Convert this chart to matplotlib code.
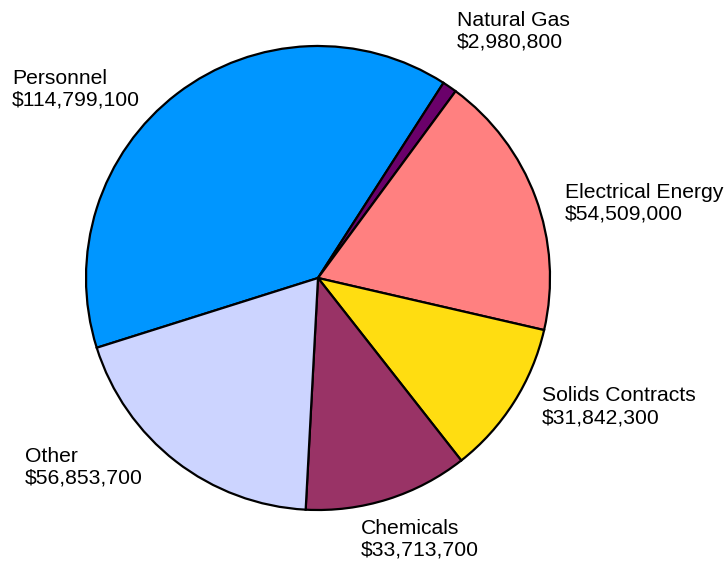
import matplotlib.pyplot as plt

# ---------------- data ----------------
categories = ["Personnel", "Natural Gas", "Electrical Energy",
              "Solids Contracts", "Chemicals", "Other"]
costs = [114799100, 2980800, 54509000, 31842300, 33713700, 56853700]
colors = ["#0096FF", "#6A006A", "#FF8080", "#FFDD11", "#993366", "#CCD4FF"]

# label anchors in pixels (left edge, baseline of the second line)
label_px = [(12, 106), (457, 48), (565, 220), (542, 423), (361, 556), (25, 484)]

W, H = 727, 566
plt.rcParams["font.family"] = ["Liberation Sans", "DejaVu Sans"]

fig = plt.figure(figsize=(W / 100, H / 100), dpi=100)
cx, cy, r = 318, 278, 232
ax = fig.add_axes([(cx - r) / W, (H - cy - r) / H, 2 * r / W, 2 * r / H])

ax.pie(costs, colors=colors, startangle=197.5, counterclock=False,
       radius=1.0, wedgeprops=dict(edgecolor="black", linewidth=1.6))
ax.set_xlim(-1, 1)
ax.set_ylim(-1, 1)
ax.set_aspect("equal")
ax.axis("off")

for name, val, (px, py) in zip(categories, costs, label_px):
    fig.text(px / W, 1 - py / H, f"{name}\n${val:,}", fontsize=15.2,
             ha="left", va="baseline", linespacing=1.17)

fig.savefig("out.png", dpi=100)
